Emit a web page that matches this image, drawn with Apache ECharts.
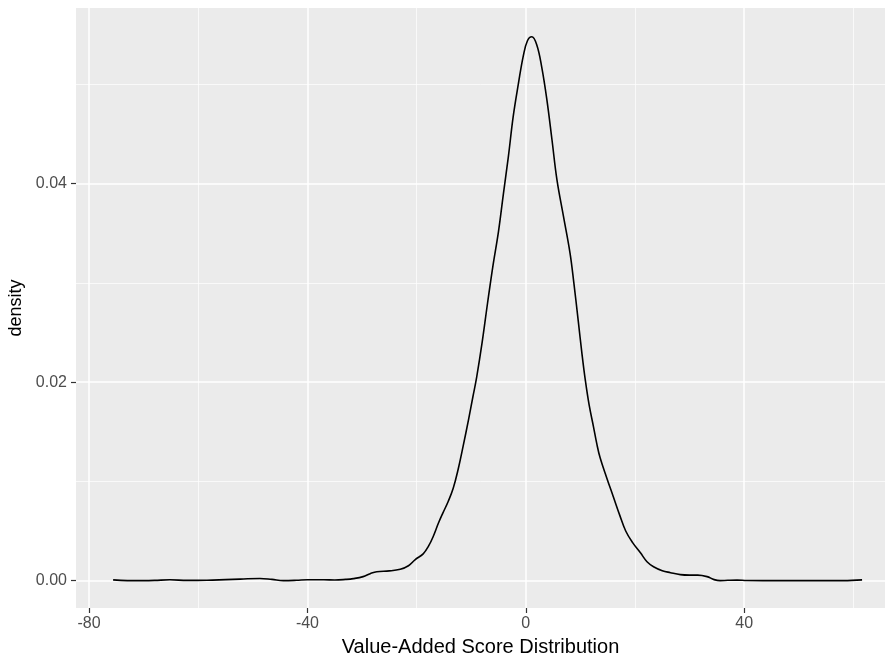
<!DOCTYPE html>
<html>
<head>
<meta charset="utf-8">
<title>Value-Added Score Distribution</title>
<script src="https://cdn.jsdelivr.net/npm/echarts@6/dist/echarts.min.js"></script>
<style>
html,body{margin:0;padding:0;background:#fff;}
#chart{width:885px;height:657px;}
</style>
</head>
<body>
<div id="chart"></div>
<script>
// density curve
var scoreX = [
  -75.6, -73, -70, -68, -65.2, -62, -58.4, -55, -52.3, -48.7, -46.5, -44.4, -42, -40,
  -37, -35, -33, -31.6, -29.8, -28.5, -27.3, -25, -23, -21.5, -20.3, -18.8, -17.8, -17,
  -16, -15.2, -14.2, -13.3, -12.4, -11.5, -10.5, -9.7, -9, -8, -7, -6, -5, -4.1, -3.2,
  -2.3, -1.35, -0.45, 0.3, 1.1, 2, 2.9, 3.85, 4.8, 5.7, 6.9, 8.1, 8.8, 9.6, 10.3, 10.9,
  11.6, 12.4, 13, 13.6, 14.8, 16, 17.2, 18.3, 19.6, 21, 22.2, 23.4, 25, 26.5, 28.3, 30,
  31.5, 33.2, 34.5, 35.6, 37, 38.7, 40.5, 43.5, 48, 53, 58.2, 61.6
];
var densityY = [
  0.00007, 0.00000, 0.00000, 0.00002, 0.00008, 0.00002, 0.00004, 0.00010, 0.00015, 0.00022, 0.00012, 0.00000, 0.00003, 0.00008,
  0.00008, 0.00006, 0.00012, 0.0002, 0.0004, 0.0007, 0.0009, 0.00098, 0.00115, 0.0015, 0.0021, 0.0027, 0.0035, 0.0044,
  0.0058, 0.0068, 0.0080, 0.0093, 0.0112, 0.0135, 0.0162, 0.0185, 0.0205, 0.0240, 0.0280, 0.0318, 0.0352, 0.0390, 0.0427,
  0.0468, 0.0501, 0.0529, 0.0544, 0.0548, 0.0540, 0.0518, 0.0485, 0.0444, 0.0404, 0.0367, 0.0330, 0.0300, 0.0262, 0.0228, 0.0202,
  0.0177, 0.0155, 0.0138, 0.0124, 0.0104, 0.0085, 0.0066, 0.0050, 0.0038, 0.0028, 0.0019, 0.0014, 0.0010, 0.0008, 0.00060, 0.00055,
  0.00055, 0.0004, 0.0001, 0.0000, 0.00003, 0.00005, 0.00001, 0.0, 0.0, 0.0, 0.0, 0.00007
];

var xTicks = [-80, -40, 0, 40];
var xMinor = [-60, -20, 20, 60];
var yTicks = [0, 0.02, 0.04];
var yMinor = [0.01, 0.03, 0.05];

var chart = echarts.init(document.getElementById('chart'));

var curve = scoreX.map(function (x, i) { return [x, densityY[i]]; });

// grid lines drawn as markLines under the curve
var gridLines = [];
xTicks.forEach(function (v) { gridLines.push({ xAxis: v, lineStyle: { width: 1.5 } }); });
xMinor.forEach(function (v) { gridLines.push({ xAxis: v, lineStyle: { width: 0.7 } }); });
yTicks.forEach(function (v) { gridLines.push({ yAxis: v, lineStyle: { width: 1.5 } }); });
yMinor.forEach(function (v) { gridLines.push({ yAxis: v, lineStyle: { width: 0.7 } }); });

var labelStyle = { color: '#4d4d4d', fontSize: 16, fontFamily: 'Liberation Sans, Arial, sans-serif' };

var option = {
  backgroundColor: '#ffffff',
  animation: false,
  grid: {
    left: 76, right: 0, top: 8, bottom: 49,
    containLabel: false,
    outerBoundsMode: 'none',
    show: true, backgroundColor: '#ebebeb', borderWidth: 0
  },
  xAxis: {
    type: 'value',
    min: -82.4, max: 65.8,
    name: 'Value-Added Score Distribution',
    nameLocation: 'middle',
    nameGap: 29,
    nameTextStyle: { color: '#000', fontSize: 20, fontFamily: 'Liberation Sans, Arial, sans-serif' },
    axisLine: { show: false, onZero: false },
    axisTick: { show: true, length: 5, customValues: xTicks, lineStyle: { color: '#333', width: 1.2 } },
    axisLabel: Object.assign({ customValues: xTicks, margin: 8 }, labelStyle),
    splitLine: { show: false }
  },
  yAxis: {
    type: 'value',
    min: -0.00276, max: 0.0577,
    name: 'density',
    nameLocation: 'middle',
    nameGap: 47,
    nameTextStyle: { color: '#000', fontSize: 18, fontFamily: 'Liberation Sans, Arial, sans-serif' },
    axisLine: { show: false, onZero: false },
    axisTick: { show: true, length: 5, customValues: yTicks, lineStyle: { color: '#333', width: 1.2 } },
    axisLabel: Object.assign({
      customValues: yTicks, margin: 9,
      formatter: function (v) { return v.toFixed(2); }
    }, labelStyle),
    splitLine: { show: false }
  },
  series: [
    {
      type: 'line',
      z: 1,
      data: [],
      silent: true,
      markLine: {
        z: 1,
        silent: true,
        symbol: 'none',
        label: { show: false },
        animation: false,
        lineStyle: { color: '#ffffff', type: 'solid' },
        data: gridLines
      }
    },
    {
      name: 'density',
      type: 'line',
      z: 3,
      data: curve,
      showSymbol: false,
      smooth: 0.4,
      lineStyle: { color: '#000000', width: 1.6 }
    }
  ]
};

chart.setOption(option);
</script>
</body>
</html>
